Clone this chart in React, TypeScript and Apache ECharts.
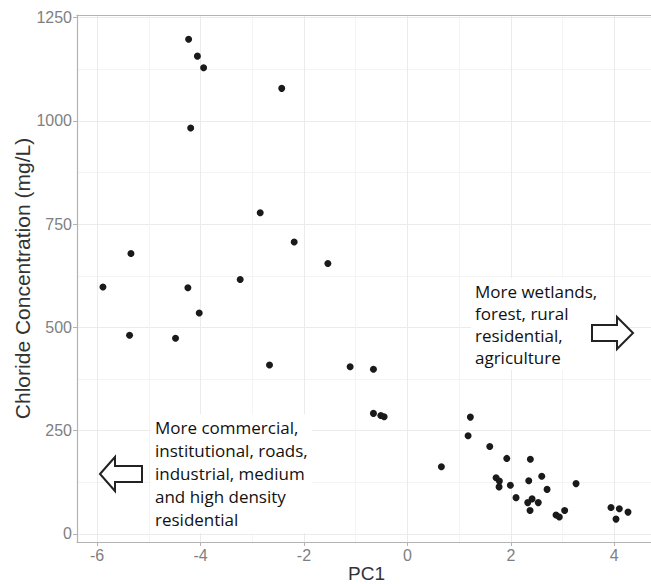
import React, { useEffect, useRef } from "react";
import * as echarts from "echarts";

const PC1 = [
  -4.23, -4.06, -3.94, -2.43, -4.19,
  -2.846, -5.345, -5.886, -4.244, -3.233, -4.025, -5.372, -4.483, -2.666,
  -2.189, -1.538, -1.107, -0.657, -0.657, -0.514, -0.45,
  0.657, 1.217, 1.173, 1.592, 1.921, 2.377, 1.714, 1.778, 1.772, 1.99, 2.346, 2.597, 2.7, 3.26,
  2.1, 2.41, 2.326, 2.53, 2.371, 2.873, 2.937, 3.04, 3.936, 4.097, 4.265, 4.033,
];
const CHLORIDE = [
  1198, 1157, 1129, 1079, 983,
  778, 679, 598, 596, 616, 535, 481, 474, 409,
  707, 655, 405, 399, 292, 287, 284,
  163, 283, 238, 212, 183, 181, 136, 128, 114, 118, 129, 140, 108, 122,
  88, 85, 76, 76, 57, 46, 41, 57, 64, 61, 53, 36,
];
const X_TICKS = [-6, -4, -2, 0, 2, 4];
const X_MINOR = [-5, -3, -1, 1, 3];
const Y_TICKS = [0, 250, 500, 750, 1000, 1250];
const Y_MINOR = [125, 375, 625, 875, 1125];
const X_MIN = -6.388;
const X_MAX = 4.806;
const Y_MIN = -19.4;
const Y_MAX = 1256.6;

const LEFT_NOTE = [
  "More commercial,",
  "institutional, roads,",
  "industrial, medium",
  "and high density",
  "residential",
];
const RIGHT_NOTE = ["More wetlands,", "forest, rural", "residential,", "agriculture"];

export default function App() {
  const ref = useRef<HTMLDivElement>(null);
  useEffect(() => {
    document.body.style.margin = "0";
    const chart = echarts.init(ref.current!, null, { renderer: "svg" });
    const axisGrey = "#b3b3b3";
    const labelFont = "Liberation Sans, Arial, sans-serif";
    const noteFont = "'Open Sans', sans-serif";
    const plain = (v: number) => String(v);
    chart.setOption({
      animation: false,
      backgroundColor: "#ffffff",
      grid: { left: 77, right: -5, top: 15, bottom: 42, containLabel: false, outerBoundsMode: "none" },
      xAxis: [
        {
          type: "value",
          min: X_MIN,
          max: X_MAX,
          position: "bottom",
          name: "PC1",
          nameLocation: "middle",
          nameGap: 22,
          nameMoveOverlap: false,
          nameTextStyle: { fontSize: 19, lineHeight: 19, color: "#333333", fontFamily: labelFont },
          axisLine: { show: true, onZero: false, lineStyle: { color: axisGrey, width: 1.2 } },
          axisTick: { show: true, length: 4, customValues: X_TICKS, lineStyle: { color: axisGrey } },
          axisLabel: { customValues: X_TICKS, formatter: plain, color: "#7f7f7f", fontSize: 16, margin: 5, fontFamily: labelFont },
          splitLine: { show: true, lineStyle: { color: "#ebebeb", width: 1 } },
        },
        {
          type: "value",
          min: X_MIN,
          max: X_MAX,
          position: "top",
          axisLine: { show: true, onZero: false, lineStyle: { color: axisGrey, width: 1.2 } },
          axisTick: { show: false, customValues: X_MINOR },
          axisLabel: { show: false },
          splitLine: { show: true, lineStyle: { color: "#f4f4f4", width: 1 } },
        },
      ],
      yAxis: [
        {
          type: "value",
          min: Y_MIN,
          max: Y_MAX,
          position: "left",
          name: "Chloride Concentration (mg/L)",
          nameLocation: "middle",
          nameGap: 44,
          nameMoveOverlap: false,
          nameTextStyle: { fontSize: 21, color: "#333333", fontFamily: labelFont },
          axisLine: { show: true, onZero: false, lineStyle: { color: axisGrey, width: 1.2 } },
          axisTick: { show: true, length: 4, customValues: Y_TICKS, lineStyle: { color: axisGrey } },
          axisLabel: { customValues: Y_TICKS, formatter: plain, color: "#7f7f7f", fontSize: 16, margin: 5, fontFamily: labelFont },
          splitLine: { show: true, lineStyle: { color: "#ebebeb", width: 1 } },
        },
        {
          type: "value",
          min: Y_MIN,
          max: Y_MAX,
          position: "right",
          axisLine: { show: false, onZero: false },
          axisTick: { show: false, customValues: Y_MINOR },
          axisLabel: { show: false },
          splitLine: { show: true, lineStyle: { color: "#f4f4f4", width: 1 } },
        },
      ],
      series: [
        {
          type: "scatter",
          xAxisIndex: 0,
          yAxisIndex: 0,
          symbolSize: 7,
          itemStyle: { color: "#1a1a1a", opacity: 1 },
          data: PC1.map((x, i) => [x, CHLORIDE[i]]),
        },
      ],
      graphic: [
        {
          type: "text",
          x: 151,
          y: 414,
          z: 10,
          style: {
            text: LEFT_NOTE.join("\n"),
            font: `17px ${noteFont}`,
            lineHeight: 23,
            fill: "#111111",
            verticalAlign: "top",
            align: "left",
            backgroundColor: "#ffffff",
            padding: [2, 4, 2, 4],
          },
        },
        {
          type: "text",
          x: 471,
          y: 278,
          z: 10,
          style: {
            text: RIGHT_NOTE.join("\n"),
            font: `17px ${noteFont}`,
            lineHeight: 22,
            fill: "#111111",
            verticalAlign: "top",
            align: "left",
            backgroundColor: "#ffffff",
            padding: [2, 4, 2, 4],
          },
        },
        {
          type: "polygon",
          z: 10,
          shape: {
            points: [
              [100, 474], [115, 457], [115, 466], [142, 466], [142, 482], [115, 482], [115, 491],
            ],
          },
          style: { fill: "#ffffff", stroke: "#222222", lineWidth: 2 },
        },
        {
          type: "polygon",
          z: 10,
          shape: {
            points: [
              [592, 325], [617, 325], [617, 317], [633, 333], [617, 349], [617, 341], [592, 341],
            ],
          },
          style: { fill: "#ffffff", stroke: "#222222", lineWidth: 2 },
        },
      ],
    });
    return () => chart.dispose();
  }, []);
  return <div ref={ref} style={{ width: 651, height: 584 }} />;
}
